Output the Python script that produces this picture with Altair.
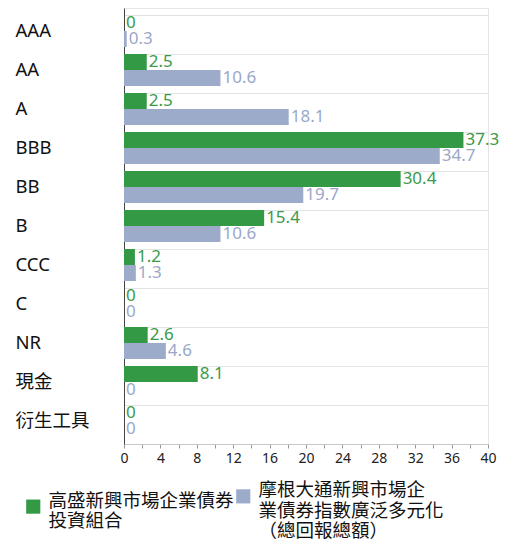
import altair as alt
import pandas as pd

categories = ["AAA", "AA", "A", "BBB", "BB", "B", "CCC", "C", "NR", "現金", "衍生工具"]
series = ["高盛新興市場企業債券\n投資組合", "摩根大通新興市場企\n業債券指數廣泛多元化\n（總回報總額）"]
portfolio = [0, 2.5, 2.5, 37.3, 30.4, 15.4, 1.2, 0, 2.6, 8.1, 0]
benchmark = [0.3, 10.6, 18.1, 34.7, 19.7, 10.6, 1.3, 0, 4.6, 0, 0]
x_ticks = list(range(0, 41, 2))

colors = ["#339944", "#9dabcb"]
text_colors = ["#3a9a4a", "#9aa8c8"]

rows = []
for i, c in enumerate(categories):
    rows.append({"cat": c, "series": series[0], "value": portfolio[i]})
    rows.append({"cat": c, "series": series[1], "value": benchmark[i]})
df = pd.DataFrame(rows)

FONT = "Noto Sans, Noto Sans CJK TC"

y_enc = alt.Y(
    "cat:N",
    sort=categories,
    scale=alt.Scale(paddingInner=0, paddingOuter=7 / 78, align=1),
    axis=alt.Axis(
        title=None,
        ticks=False,
        tickSize=0,
        labelAlign="left",
        labelPadding=109,
        labelOffset=-4,
        labelFontSize=18.5,
        labelColor="#111111",
        labelFont=FONT,
        domainColor="#444444",
        grid=True,
        tickBand="extent",
        gridColor="#e3e3e3",
    ),
)
x_enc = alt.X(
    "value:Q",
    scale=alt.Scale(domain=[0, 40], nice=False),
    axis=alt.Axis(
        title=None,
        values=x_ticks,
        labelExpr="datum.value % 4 == 0 ? datum.label : ''",
        labelOverlap=False,
        labelBound=False,
        grid=False,
        tickSize=4,
        tickColor="#999999",
        domainColor="#c8c8c8",
        labelFontSize=14,
        labelColor="#222222",
        labelFont=FONT,
        labelPadding=3,
        labelFlush=False,
    ),
)
yoff = alt.YOffset("series:N", sort=series, scale=alt.Scale(domain=series, range=[0, 32], paddingInner=0, paddingOuter=0))

bars = alt.Chart(df).mark_bar(size=16).encode(
    y=y_enc,
    x=x_enc,
    yOffset=yoff,
    color=alt.Color(
        "series:N",
        sort=series,
        scale=alt.Scale(domain=series, range=colors),
        legend=alt.Legend(
            title=None,
            orient="none",
            legendX=-100,
            legendY=479,
            direction="horizontal",
            columns=2,
            symbolType="square",
            symbolSize=200,
            symbolStrokeWidth=0,
            labelFontSize=18.5,
            labelFont=FONT,
            labelColor="#111111",
            labelLimit=0,
            labelBaseline="alphabetic",
            labelExpr="split(datum.label, '\\n')",
            columnPadding=0,
            labelOffset=6,
        ),
    ),
)

labels = alt.Chart(df).mark_text(align="left", baseline="middle", dx=2, fontSize=17, font=FONT).encode(
    y=y_enc,
    x=x_enc,
    yOffset=yoff,
    text=alt.Text("value:Q", format=".1~f"),
    color=alt.Color("series:N", sort=series, scale=alt.Scale(domain=series, range=text_colors), legend=None),
)

chart = (
    alt.layer(bars, labels)
    .resolve_scale(color="independent")
    .properties(
        width=364,
        height=436,
        autosize=alt.AutoSizeParams(type="none"),
        padding={"left": 116, "top": 0, "right": 17, "bottom": 97},
    )
    .configure_view(stroke="#e6e6e6")
)

chart.save("out.html", embed_options={"renderer": "svg", "actions": False})
